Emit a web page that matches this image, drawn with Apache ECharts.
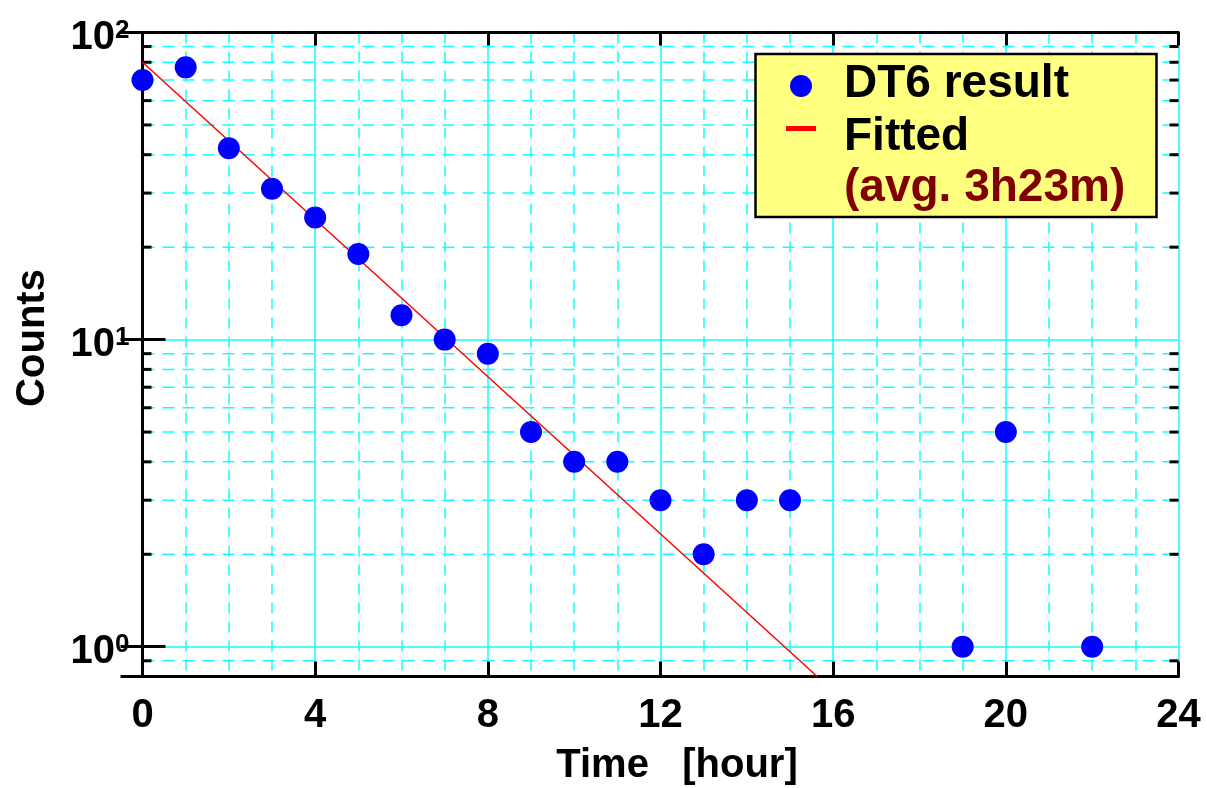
<!DOCTYPE html>
<html>
<head>
<meta charset="utf-8">
<title>DT6 counts</title>
<script src="https://cdn.jsdelivr.net/npm/echarts@6/dist/echarts.min.js"></script>
<style>
  html, body { margin: 0; padding: 0; background: #fff; }
  #chart { width: 1207px; height: 788px; }
</style>
</head>
<body>
<div id="chart"></div>
<script>
// measured counts per hour
const times = [0, 1, 2, 3, 4, 5, 6, 7, 8, 9, 10, 11, 12, 13, 14, 15, 19, 20, 22]
const counts = [70, 77, 42, 31, 25, 19, 12, 10, 9, 5, 4, 4, 3, 2, 3, 3, 1, 5, 1]

// fitted line end points (read at the frame)
const fitTimes = [0, 15.63]
const fitCounts = [80, 0.8]

// minor levels of the log axis (dashed grid + short ticks)
const minorLevels = [0.9, 2, 3, 4, 5, 6, 7, 8, 9, 20, 30, 40, 50, 60, 70, 80, 90]

const font = "'Liberation Sans', Arial, Helvetica, sans-serif"
const gridColor = '#11ffff'
const X_MIN = 0, X_MAX = 24, X_STEP = 4
const Y_MIN = 0.8, Y_MAX = 100

const chart = echarts.init(document.getElementById('chart'))

// y labels as 10^n
const powLabel = (v) => {
  const l = Math.log10(v)
  const e = Math.round(l)
  return Math.abs(l - e) < 1e-6 ? '{b|10}{s|' + e + '}' : ''
}

chart.setOption({
  animation: false,
  backgroundColor: '#fff',
  grid: { left: 142.5, top: 32.5, width: 1036, height: 644, containLabel: false },
  xAxis: [
    {
      type: 'value', min: X_MIN, max: X_MAX, interval: X_STEP,
      axisLine: { lineStyle: { color: '#000', width: 3 } },
      axisTick: { inside: true, length: 15, lineStyle: { color: '#000', width: 3 } },
      minorTick: { show: false, splitNumber: 4 },
      axisLabel: { margin: 19, color: '#000', fontSize: 40, fontWeight: 'bold', fontFamily: font },
      splitLine: { show: true, lineStyle: { color: gridColor, width: 1.5 } },
      minorSplitLine: { show: true, lineStyle: { color: gridColor, width: 1.5, type: [11, 8] } }
    },
    {
      type: 'value', position: 'top', min: X_MIN, max: X_MAX, interval: X_STEP,
      axisLine: { lineStyle: { color: '#000', width: 3 } },
      axisTick: { inside: true, length: 13, lineStyle: { color: '#000', width: 3 } },
      axisLabel: { show: false },
      splitLine: { show: false }
    }
  ],
  yAxis: [
    {
      type: 'log', logBase: 10, min: Y_MIN, max: Y_MAX,
      axisLine: { show: true, lineStyle: { color: '#000', width: 3 } },
      axisTick: { inside: true, length: 23, lineStyle: { color: '#000', width: 3 } },
      axisLabel: {
        margin: 13, color: '#000', formatter: powLabel, padding: [11, 0, 0, 0],
        rich: {
          b: { fontSize: 40, fontWeight: 'bold', fontFamily: font, color: '#000', lineHeight: 40 },
          s: { fontSize: 26, fontWeight: 'bold', fontFamily: font, color: '#000', lineHeight: 9, verticalAlign: 'top' }
        }
      },
      splitLine: { show: true, lineStyle: { color: gridColor, width: 1.5 } }
    },
    {
      type: 'log', logBase: 10, min: Y_MIN, max: Y_MAX, position: 'right',
      axisLine: { show: true, lineStyle: { color: '#000', width: 3 } },
      axisTick: { inside: true, length: 22, lineStyle: { color: '#000', width: 3 } },
      axisLabel: { show: false },
      splitLine: { show: false }
    }
  ],
  series: [
    {
      // minor grid lines and ticks at 2..9 of each decade
      type: 'custom',
      silent: true,
      z: 1,
      data: minorLevels.map(v => [X_MIN, v]),
      encode: { x: 0, y: 1 },
      renderItem: (params, api) => {
        const v = api.value(1)
        const a = api.coord([X_MIN, v])
        const b = api.coord([X_MAX, v])
        return {
          type: 'group',
          children: [
            { type: 'line', shape: { x1: a[0], y1: a[1], x2: b[0], y2: b[1] },
              style: { stroke: gridColor, lineWidth: 1.5, lineDash: [12, 8] } },
            { type: 'line', shape: { x1: a[0], y1: a[1], x2: a[0] + 9, y2: a[1] },
              style: { stroke: '#000', lineWidth: 3 } },
            { type: 'line', shape: { x1: b[0] - 9, y1: b[1], x2: b[0], y2: b[1] },
              style: { stroke: '#000', lineWidth: 3 } }
          ]
        }
      }
    },
    {
      name: 'Fitted',
      type: 'line',
      z: 2,
      showSymbol: false,
      data: fitTimes.map((t, i) => [t, fitCounts[i]]),
      lineStyle: { color: '#ff0000', width: 1.5 }
    },
    {
      name: 'DT6 result',
      type: 'scatter',
      z: 3,
      symbolSize: 22,
      itemStyle: { color: '#0000ff', opacity: 1 },
      data: times.map((t, i) => [t, counts[i]])
    }
  ],
  graphic: [
    {
      type: 'text', x: 677, y: 766,
      style: { text: 'Time   [hour]', fill: '#000', font: 'bold 40px ' + font, align: 'center', verticalAlign: 'middle' }
    },
    {
      type: 'text', x: 33, y: 338, rotation: Math.PI / 2,
      style: { text: 'Counts', fill: '#000', font: 'bold 40px ' + font, align: 'center', verticalAlign: 'middle' }
    },
    // legend box
    { type: 'rect', z: 100, shape: { x: 755.5, y: 54, width: 401, height: 163 },
      style: { fill: '#ffff80', stroke: '#000', lineWidth: 2.5 } },
    { type: 'circle', z: 101, shape: { cx: 801, cy: 86, r: 11 }, style: { fill: '#0000ff' } },
    { type: 'rect', z: 101, shape: { x: 786, y: 126, width: 30, height: 5 }, style: { fill: '#ff0000' } },
    { type: 'text', z: 101, x: 844, y: 84,
      style: { text: 'DT6 result', fill: '#000', font: 'bold 46px ' + font, verticalAlign: 'middle' } },
    { type: 'text', z: 101, x: 844, y: 137,
      style: { text: 'Fitted', fill: '#000', font: 'bold 46px ' + font, verticalAlign: 'middle' } },
    { type: 'text', z: 101, x: 844, y: 188,
      style: { text: '(avg. 3h23m)', fill: '#800000', font: 'bold 46px ' + font, verticalAlign: 'middle' } }
  ]
})
</script>
</body>
</html>
